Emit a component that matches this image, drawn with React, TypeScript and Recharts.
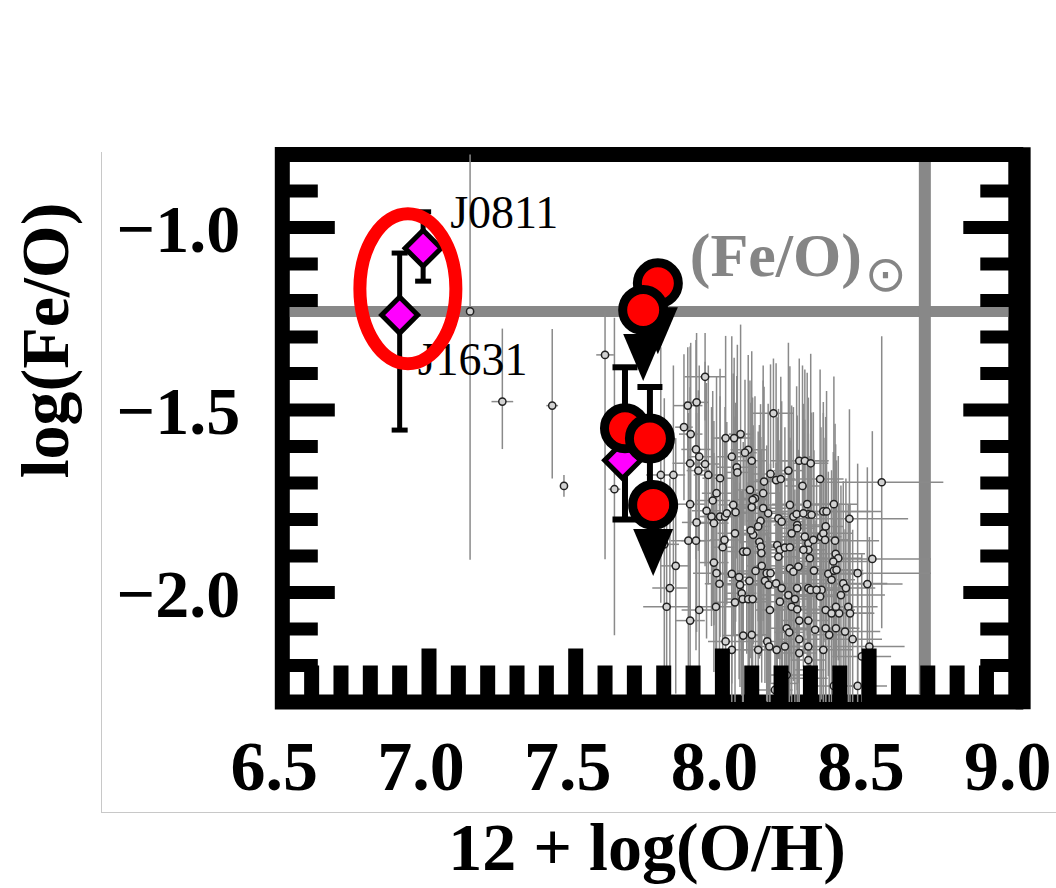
import React from "react";
import {
	ScatterChart,
	Scatter,
	XAxis,
	YAxis,
	ErrorBar,
	ReferenceLine,
	ReferenceArea,
} from "recharts";

const SERIF = '"Liberation Serif", "Times New Roman", Times, serif';

// axis ticks: inward marks every 0.1, numbers every 0.5
const xTicks = [
	6.5, 6.6, 6.7, 6.8, 6.9, 7.0, 7.1, 7.2, 7.3, 7.4, 7.5, 7.6, 7.7, 7.8, 7.9,
	8.0, 8.1, 8.2, 8.3, 8.4, 8.5, 8.6, 8.7, 8.8, 8.9, 9.0,
];
const yTicks = [
	-2.2, -2.1, -2.0, -1.9, -1.8, -1.7, -1.6, -1.5, -1.4, -1.3, -1.2, -1.1, -1.0,
	-0.9,
];
const xDomain = [6.5, 9.0];
const yDomain = [-2.3, -0.8];

// solar values
const solarOH = 8.69;
const solarFeO = -1.23;

// comparison sample: [12+log(O/H), log(Fe/O), xErr, yErrLow, yErrHigh?]
const sample: number[][] = [
	[7.14, -1.23, 0.02, 0.68, 0.6],
	[7.25, -1.477, 0.037, 0.13, 0.2],
	[7.42, -1.488, 0.02, 0.2, 0.21],
	[7.46, -1.708, 0.01, 0.03],
	[7.6, -1.349, 0.03, 0.56, 0.12],
	[7.632, -1.717, 0.02, 0.4, 0.47],
	[7.941, -1.409, 0.07, 0.12],
	[7.882, -1.488, 0.05, 0.16],
	[7.912, -1.479, 0.04, 0.19],
	[8.174, -1.509, 0.07, 0.15],
	[7.869, -1.547, 0.03, 0.2],
	[7.892, -1.566, 0.04, 0.25],
	[8.011, -1.577, 0.05, 0.28],
	[8.04, -1.577, 0.06, 0.22],
	[8.062, -1.566, 0.04, 0.3],
	[7.91, -1.608, 0.05, 0.3],
	[7.921, -1.628, 0.04, 0.25],
	[7.89, -1.646, 0.06, 0.32],
	[7.941, -1.648, 0.05, 0.28],
	[7.918, -1.666, 0.04, 0.22],
	[7.952, -1.678, 0.05, 0.3],
	[8.088, -1.609, 0.06, 0.26],
	[8.1, -1.639, 0.05, 0.3],
	[8.077, -1.617, 0.04, 0.2],
	[8.032, -1.628, 0.05, 0.33],
	[8.049, -1.657, 0.07, 0.25],
	[8.051, -1.671, 0.04, 0.35],
	[7.992, -1.687, 0.06, 0.3],
	[8.262, -1.639, 0.1, 0.28],
	[8.281, -1.639, 0.08, 0.25],
	[8.301, -1.646, 0.06, 0.3],
	[8.225, -1.666, 0.05, 0.35],
	[8.164, -1.675, 0.06, 0.3],
	[8.142, -1.696, 0.05, 0.26],
	[8.183, -1.692, 0.07, 0.32],
	[8.199, -1.689, 0.05, 0.28],
	[8.333, -1.689, 0.08, 0.3],
	[8.273, -1.708, 0.06, 0.33],
	[8.543, -1.698, 0.21, 0.4],
	[7.79, -1.678, 0.05, 0.35],
	[7.833, -1.678, 0.04, 0.3],
	[8.094, -1.719, 0.05, 0.3],
	[8.139, -1.728, 0.06, 0.35],
	[8.111, -1.742, 0.04, 0.28],
	[7.98, -1.728, 0.05, 0.32],
	[7.967, -1.748, 0.06, 0.3],
	[7.946, -1.776, 0.05, 0.35],
	[7.963, -1.792, 0.04, 0.3],
	[7.971, -1.81, 0.05, 0.28],
	[7.992, -1.792, 0.06, 0.33],
	[8.009, -1.792, 0.05, 0.3],
	[8.015, -1.783, 0.07, 0.25],
	[8.037, -1.76, 0.05, 0.36],
	[8.045, -1.78, 0.04, 0.3],
	[7.89, -1.758, 0.05, 0.32],
	[8.1, -1.766, 0.06, 0.3],
	[8.103, -1.746, 0.05, 0.28],
	[8.139, -1.769, 0.08, 0.35],
	[8.156, -1.783, 0.06, 0.3],
	[8.13, -1.804, 0.05, 0.32],
	[8.122, -1.819, 0.04, 0.26],
	[8.105, -1.842, 0.05, 0.3],
	[8.097, -1.83, 0.06, 0.35],
	[8.191, -1.797, 0.05, 0.3],
	[8.202, -1.806, 0.07, 0.33],
	[8.23, -1.76, 0.1, 0.38],
	[8.242, -1.792, 0.06, 0.3],
	[8.253, -1.785, 0.05, 0.35],
	[8.255, -1.815, 0.08, 0.3],
	[8.289, -1.758, 0.12, 0.36],
	[8.293, -1.786, 0.07, 0.32],
	[8.276, -1.783, 0.05, 0.3],
	[8.304, -1.787, 0.06, 0.28],
	[8.344, -1.778, 0.2, 0.3],
	[8.355, -1.778, 0.15, 0.33],
	[8.38, -1.758, 0.08, 0.35],
	[8.433, -1.798, 0.2, 0.3],
	[7.912, -1.808, 0.05, 0.3],
	[8.043, -1.838, 0.06, 0.32],
	[8.007, -1.856, 0.05, 0.28],
	[8.001, -1.876, 0.04, 0.3],
	[7.884, -1.858, 0.06, 0.35],
	[7.91, -1.858, 0.05, 0.3],
	[7.802, -1.868, 0.05, 0.4],
	[8.071, -1.888, 0.06, 0.3],
	[8.083, -1.888, 0.05, 0.28],
	[8.126, -1.861, 0.07, 0.32],
	[8.131, -1.874, 0.05, 0.3],
	[8.133, -1.892, 0.06, 0.26],
	[8.187, -1.87, 0.05, 0.35],
	[8.196, -1.883, 0.08, 0.3],
	[8.213, -1.877, 0.06, 0.33],
	[8.23, -1.876, 0.05, 0.3],
	[8.191, -1.902, 0.07, 0.28],
	[8.236, -1.838, 0.1, 0.35],
	[8.255, -1.824, 0.06, 0.3],
	[8.281, -1.847, 0.08, 0.32],
	[8.293, -1.865, 0.05, 0.3],
	[8.31, -1.856, 0.12, 0.35],
	[8.336, -1.847, 0.07, 0.3],
	[8.344, -1.838, 0.1, 0.33],
	[8.352, -1.819, 0.06, 0.3],
	[8.35, -1.856, 0.08, 0.28],
	[8.384, -1.858, 0.15, 0.32],
	[8.386, -1.894, 0.1, 0.3],
	[8.395, -1.906, 0.08, 0.28],
	[8.378, -1.915, 0.12, 0.3],
	[8.293, -1.883, 0.06, 0.3],
	[8.298, -1.906, 0.05, 0.28],
	[8.276, -1.883, 0.07, 0.32],
	[8.511, -1.908, 0.2, 0.35],
	[7.971, -1.918, 0.05, 0.3],
	[7.98, -1.947, 0.08, 0.32],
	[8.032, -1.949, 0.06, 0.3],
	[8.057, -1.958, 0.05, 0.28],
	[8.092, -1.968, 0.07, 0.33],
	[7.99, -1.976, 0.05, 0.3],
	[8.06, -1.979, 0.06, 0.28],
	[8.134, -1.927, 0.05, 0.32],
	[8.113, -1.941, 0.06, 0.3],
	[8.151, -1.947, 0.08, 0.35],
	[8.164, -1.947, 0.05, 0.3],
	[8.145, -1.968, 0.06, 0.28],
	[8.157, -1.979, 0.05, 0.3],
	[8.183, -1.975, 0.07, 0.33],
	[8.202, -1.988, 0.06, 0.3],
	[8.23, -1.934, 0.1, 0.35],
	[8.242, -1.943, 0.06, 0.3],
	[8.259, -1.929, 0.08, 0.32],
	[8.255, -1.988, 0.05, 0.28],
	[8.293, -1.988, 0.07, 0.3],
	[8.312, -1.94, 0.1, 0.33],
	[8.338, -1.993, 0.06, 0.3],
	[8.361, -1.949, 0.12, 0.28],
	[8.372, -1.965, 0.08, 0.3],
	[8.38, -1.94, 0.1, 0.32],
	[8.389, -1.938, 0.07, 0.3],
	[8.412, -1.975, 0.15, 0.28],
	[8.421, -1.988, 0.1, 0.3],
	[8.461, -1.947, 0.25, 0.3],
	[8.494, -1.977, 0.12, 0.32],
	[7.841, -1.927, 0.05, 0.35],
	[7.821, -1.988, 0.06, 0.3],
	[7.81, -2.039, 0.08, 0.3],
	[8.066, -2.002, 0.05, 0.28],
	[8.069, -2.018, 0.06, 0.3],
	[8.088, -2.018, 0.05, 0.32],
	[7.978, -2.039, 0.07, 0.3],
	[7.921, -2.048, 0.06, 0.28],
	[7.89, -2.077, 0.05, 0.3],
	[8.043, -2.027, 0.08, 0.33],
	[8.103, -2.018, 0.06, 0.3],
	[8.162, -2.048, 0.05, 0.28],
	[8.196, -2.025, 0.07, 0.3],
	[8.225, -2.007, 0.1, 0.32],
	[8.247, -2.018, 0.06, 0.3],
	[8.236, -2.039, 0.05, 0.28],
	[8.255, -2.046, 0.08, 0.3],
	[8.262, -2.077, 0.06, 0.3],
	[8.293, -2.077, 0.07, 0.28],
	[8.301, -1.993, 0.1, 0.32],
	[8.321, -1.993, 0.06, 0.3],
	[8.333, -2.011, 0.08, 0.3],
	[8.352, -2.048, 0.1, 0.28],
	[8.372, -2.057, 0.07, 0.3],
	[8.398, -2.057, 0.12, 0.3],
	[8.387, -2.039, 0.06, 0.32],
	[8.404, -2.007, 0.15, 0.3],
	[8.429, -2.039, 0.1, 0.28],
	[8.435, -2.057, 0.08, 0.3],
	[8.219, -2.098, 0.06, 0.3],
	[8.228, -2.109, 0.05, 0.28],
	[8.262, -2.128, 0.07, 0.3],
	[8.316, -2.102, 0.08, 0.3],
	[8.352, -2.098, 0.1, 0.28],
	[8.364, -2.116, 0.06, 0.3],
	[8.387, -2.098, 0.08, 0.3],
	[8.418, -2.107, 0.12, 0.28],
	[8.444, -2.128, 0.1, 0.3],
	[8.011, -2.134, 0.06, 0.3],
	[8.032, -2.157, 0.05, 0.28],
	[8.071, -2.118, 0.07, 0.3],
	[8.1, -2.116, 0.06, 0.3],
	[8.122, -2.157, 0.05, 0.28],
	[8.153, -2.134, 0.08, 0.3],
	[8.16, -2.148, 0.06, 0.3],
	[8.185, -2.157, 0.05, 0.28],
	[8.213, -2.148, 0.07, 0.3],
	[8.262, -2.166, 0.06, 0.3],
	[8.293, -2.148, 0.08, 0.28],
	[8.344, -2.157, 0.1, 0.3],
	[8.501, -2.148, 0.12, 0.3],
	[8.475, -2.175, 0.1, 0.28],
	[8.293, -2.185, 0.06, 0.3],
	[8.298, -2.212, 0.05, 0.28],
	[8.289, -2.235, 0.07, 0.3],
	[8.219, -2.226, 0.06, 0.3],
	[8.205, -2.249, 0.05, 0.28],
	[8.179, -2.267, 0.06, 0.3],
	[8.38, -2.256, 0.08, 0.3],
	[8.461, -2.256, 0.1, 0.28],
];

// red circles
const redOH = [7.78, 7.73, 7.668, 7.753, 7.764];
const redFeO = [-1.153, -1.226, -1.55, -1.578, -1.76];
const redErrLo = [0, 0, 0.25, 0.15, 0];
const redErrHi = [0, 0, 0.167, 0.141, 0];
const redUpperLimit = [true, true, false, false, true];

// magenta diamonds
const diamondNames = ["J0811", "J1631", ""];
const diamondOH = [6.98, 6.9, 7.66];
const diamondFeO = [-1.057, -1.24, -1.638];
const diamondErrLo = [0.09, 0.315, 0];
const diamondErrHi = [0.1, 0.17, 0];

// red ring around the two highlighted objects
const highlightOH = [6.928];
const highlightFeO = [-1.168];

// error bars are cut at the frame, as in the figure
const sampleData = sample.map(([x, y, ex, lo, hi]) => ({
	x,
	y,
	ex: [Math.min(ex, x - xDomain[0]), Math.min(ex, xDomain[1] - x)],
	ey: [Math.min(lo, y - yDomain[0]), Math.min(hi ?? lo, yDomain[1] - y)],
}));
const redData = redOH.map((x, i) => ({
	x,
	y: redFeO[i],
	ey: [redErrLo[i], redErrHi[i]],
	limit: redUpperLimit[i],
}));
const limitData = redData.filter((d) => d.limit);
const diamondData = diamondOH.map((x, i) => ({
	x,
	y: diamondFeO[i],
	name: diamondNames[i],
	ey: [diamondErrLo[i], diamondErrHi[i]],
}));
const highlightData = highlightOH.map((x, i) => ({ x, y: highlightFeO[i] }));

const nameOffsets: Record<string, [number, number]> = {
	J0811: [27, -20],
	J1631: [18, 60],
};

const isMajor = (v: number) => Math.abs(v * 2 - Math.round(v * 2)) < 1e-6;
const fmt = (v: number) => (v < 0 ? "\u2212" : "") + Math.abs(v).toFixed(1);

function BottomTick({ x, y, payload }: any) {
	const v = payload.value;
	const major = isMajor(v);
	const inner = v > 6.55 && v < 8.95;
	const len = major ? 46 : 29;
	return (
		<g>
			{inner && (
				<rect x={x - 7.5} y={y - 7.5 - len} width={15} height={len + 8} fill="#000" />
			)}
			{major && (
				<text
					x={x - 8}
					y={y + 88}
					textAnchor="middle"
					fontFamily={SERIF}
					fontWeight="bold"
					fontSize={70}
					fill="#000">
					{v.toFixed(1)}
				</text>
			)}
		</g>
	);
}

function LeftTick({ x, y, payload }: any) {
	const v = payload.value;
	const major = isMajor(v);
	const len = major ? 45 : 28;
	return (
		<g>
			<rect x={x} y={y - 6.5} width={len + 7.5} height={13} fill="#000" />
			{major && (
				<text
					x={x - 42}
					y={y + 24}
					textAnchor="end"
					fontFamily={SERIF}
					fontWeight="bold"
					fontSize={68}
					fill="#000">
					{fmt(v)}
				</text>
			)}
		</g>
	);
}

function RightTick({ x, y, payload }: any) {
	const len = isMajor(payload.value) ? 45 : 28;
	return <rect x={x - 7.5 - len} y={y - 6.5} width={len + 7.5} height={13} fill="#000" />;
}

const SampleDot = ({ cx, cy }: any) => (
	<circle cx={cx} cy={cy} r={3.6} fill="#d2d2d2" stroke="#222" strokeWidth={1.5} />
);

function DiamondDot({ cx, cy, payload }: any) {
	const s = 18;
	const off = nameOffsets[payload.name];
	return (
		<g>
			<polygon
				points={`${cx},${cy - s} ${cx + s},${cy} ${cx},${cy + s} ${cx - s},${cy}`}
				fill="#ff00ff"
				stroke="#000"
				strokeWidth={5}
			/>
			{off && (
				<text
					x={cx + off[0]}
					y={cy + off[1]}
					fontFamily={SERIF}
					fontSize={46}
					fill="#000">
					{payload.name}
				</text>
			)}
		</g>
	);
}

function LimitArrow({ cx, cy }: any) {
	return (
		<g>
			<line x1={cx} y1={cy} x2={cx} y2={cy + 30} stroke="#000" strokeWidth={6} />
			<polygon
				points={`${cx - 20},${cy + 24} ${cx + 20},${cy + 24} ${cx},${cy + 71}`}
				fill="#000"
			/>
		</g>
	);
}

const RedDot = ({ cx, cy }: any) => (
	<circle cx={cx} cy={cy} r={20.5} fill="#ff0000" stroke="#000" strokeWidth={9} />
);

const HighlightRing = ({ cx, cy }: any) => (
	<ellipse cx={cx} cy={cy} rx={48} ry={75} fill="none" stroke="#ff0000" strokeWidth={13} />
);

const solarLabel = (props: any) => {
	const vb = props.viewBox;
	return (
		<g>
			<text
				x={vb.x + 400}
				y={vb.y - 35}
				fontFamily={SERIF}
				fontWeight="bold"
				fontSize={62}
				fill="#858585">
				(Fe/O)
			</text>
			<text
				x={vb.x + 596}
				y={vb.y - 20}
				textAnchor="middle"
				fontFamily='"DejaVu Sans", sans-serif'
				fontSize={50}
				fill="#858585">
				⊙
			</text>
		</g>
	);
};

const xTitle = (props: any) => {
	const vb = props.viewBox;
	return (
		<text
			x={vb.x + vb.width / 2 - 2}
			y={vb.y + 168}
			textAnchor="middle"
			fontFamily={SERIF}
			fontWeight="bold"
			fontSize={68}
			fill="#000">
			12 + log(O/H)
		</text>
	);
};

const yTitle = (props: any) => {
	const vb = props.viewBox;
	const x = vb.x - 32;
	const y = vb.y + 186;
	return (
		<text
			x={x}
			y={y}
			transform={`rotate(-90, ${x}, ${y})`}
			textAnchor="middle"
			fontFamily={SERIF}
			fontWeight="bold"
			fontSize={68}
			fill="#000">
			log(Fe/O)
		</text>
	);
};

// inner edge of the thick frame, in data units
const innerX = [6.5256, 8.974];
const innerY = [-2.2795, -0.8205];

export default function App() {
	return (
		<div style={{ position: "absolute", left: 0, top: 0, width: 1056, height: 888, background: "#fff" }}>
			<div
				style={{
					position: "absolute",
					left: 101,
					top: 152,
					width: 0,
					height: 660,
					borderLeft: "1.5px solid #c8c8c8",
				}}
			/>
			<div
				style={{
					position: "absolute",
					left: 101,
					top: 812,
					width: 955,
					height: 0,
					borderTop: "1.5px solid #c8c8c8",
				}}
			/>
			<div style={{ position: "absolute", left: 0, top: 0 }}>
				<ScatterChart
					width={1056}
					height={888}
					margin={{ top: 154.5, right: 20.2, bottom: 15, left: 100.3 }}>
					<XAxis
						type="number"
						dataKey="x"
						domain={xDomain}
						allowDataOverflow
						ticks={xTicks}
						interval={0}
						tickSize={0}
						tickMargin={0}
						axisLine={false}
						tickLine={false}
						tick={BottomTick}
						height={171}
						label={xTitle}
					/>
					<YAxis
						type="number"
						dataKey="y"
						domain={yDomain}
						allowDataOverflow
						ticks={yTicks}
						interval={0}
						tickSize={0}
						tickMargin={0}
						axisLine={false}
						tickLine={false}
						tick={LeftTick}
						width={182}
						label={yTitle}
					/>
					<YAxis
						yAxisId="r"
						orientation="right"
						type="number"
						dataKey="y"
						domain={yDomain}
						allowDataOverflow
						ticks={yTicks}
						interval={0}
						tickSize={0}
						tickMargin={0}
						axisLine={false}
						tickLine={false}
						tick={RightTick}
						width={20}
					/>
					<ReferenceLine
						segment={[
							{ x: innerX[0], y: solarFeO },
							{ x: innerX[1], y: solarFeO },
						]}
						stroke="#888"
						strokeWidth={11}
						label={solarLabel}
					/>
					<ReferenceLine
						segment={[
							{ x: solarOH, y: innerY[0] },
							{ x: solarOH, y: innerY[1] },
						]}
						stroke="#888"
						strokeWidth={12}
					/>
					<ReferenceArea
						x1={xDomain[0]}
						x2={xDomain[1]}
						y1={yDomain[0]}
						y2={yDomain[1]}
						fill="none"
						fillOpacity={0}
						stroke="#000"
						strokeWidth={15}
						ifOverflow="visible"
					/>
					<ReferenceLine
						segment={[
							{ x: 9.025, y: -0.78 },
							{ x: 9.025, y: -2.32 },
						]}
						stroke="#000"
						strokeWidth={15}
						ifOverflow="visible"
					/>
					<Scatter data={sampleData} shape={SampleDot} isAnimationActive={false}>
						<ErrorBar
							dataKey="ey"
							direction="y"
							width={0}
							stroke="#8a8a8a"
							strokeWidth={1.5}
							isAnimationActive={false}
						/>
						<ErrorBar
							dataKey="ex"
							direction="x"
							width={0}
							stroke="#8a8a8a"
							strokeWidth={1.5}
							isAnimationActive={false}
						/>
					</Scatter>
					<Scatter data={diamondData} shape={DiamondDot} isAnimationActive={false}>
						<ErrorBar
							dataKey="ey"
							direction="y"
							width={8}
							stroke="#000"
							strokeWidth={5}
							isAnimationActive={false}
						/>
					</Scatter>
					<Scatter data={limitData} shape={LimitArrow} isAnimationActive={false} />
					<Scatter data={redData} shape={RedDot} isAnimationActive={false}>
						<ErrorBar
							dataKey="ey"
							direction="y"
							width={12.5}
							stroke="#000"
							strokeWidth={6}
							isAnimationActive={false}
						/>
					</Scatter>
					<Scatter data={highlightData} shape={HighlightRing} isAnimationActive={false} />
				</ScatterChart>
			</div>
		</div>
	);
}
